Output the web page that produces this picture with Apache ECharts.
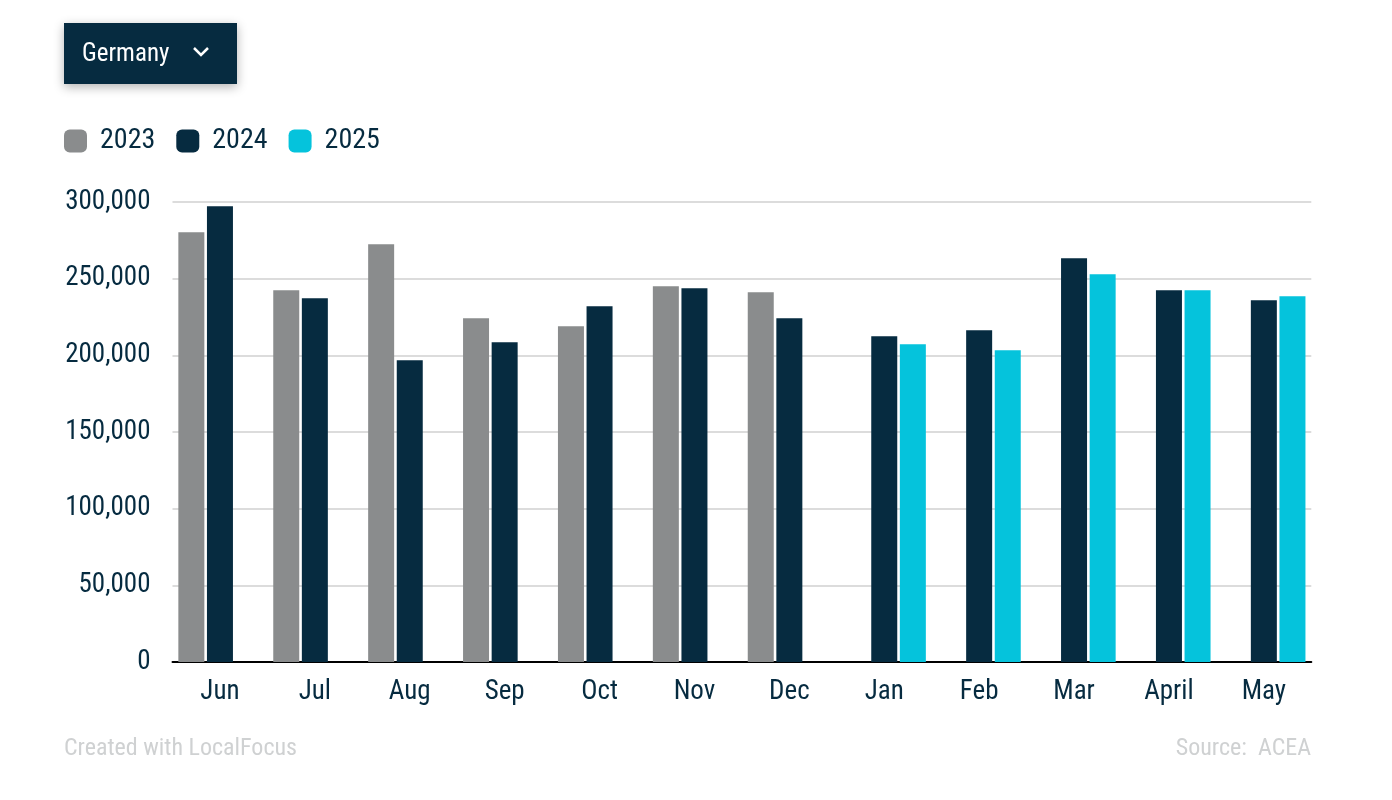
<!DOCTYPE html>
<html>
<head>
<meta charset="utf-8">
<script src="https://cdn.jsdelivr.net/npm/echarts@6/dist/echarts.min.js"></script>
<style>
html,body{margin:0;padding:0;background:#fff;}
#chart{width:1392px;height:800px;}
</style>
</head>
<body>
<div id="chart"></div>
<script>
const categories = ['Jun','Jul','Aug','Sep','Oct','Nov','Dec','Jan','Feb','Mar','April','May'];
const values2023 = [280300, 242500, 272500, 224200, 219000, 245000, 241200, null, null, null, null, null];
const values2024 = [297300, 237200, 196800, 208500, 232000, 243700, 224200, 212500, 216400, 263300, 242500, 236000];
const values2025 = [null, null, null, null, null, null, null, 207200, 203300, 252900, 242500, 238600];
const yTicks = [0, 50000, 100000, 150000, 200000, 250000, 300000];

const FONT = '"Roboto Condensed", "Liberation Sans Narrow", Roboto, sans-serif';
const NAVY = '#062b40';
const GRAY = '#8a8c8d';
const CYAN = '#05c3dc';

const chart = echarts.init(document.getElementById('chart'), null, {renderer: 'canvas'});
const barCommon = {type: 'bar', barWidth: 26, barGap: '10%'};
chart.setOption({
  animation: false,
  backgroundColor: '#ffffff',
  textStyle: {fontFamily: FONT},
  grid: {left: 172.5, right: 80.7, top: 202, bottom: 138, containLabel: false},
  legend: {
    left: 59, top: 122,
    icon: 'roundRect',
    itemWidth: 23, itemHeight: 23, itemGap: 21,
    textStyle: {fontFamily: FONT, fontSize: 28, color: NAVY, padding: [0, 0, 0, 8]},
    data: ['2023', '2024', '2025']
  },
  xAxis: {
    type: 'category',
    data: categories,
    axisTick: {show: false},
    axisLine: {lineStyle: {color: '#000', width: 2}},
    axisLabel: {fontFamily: FONT, fontSize: 27, color: NAVY, margin: 17}
  },
  yAxis: {
    type: 'value',
    min: yTicks[0], max: yTicks[yTicks.length - 1], interval: yTicks[1] - yTicks[0],
    axisLine: {show: false}, axisTick: {show: false},
    splitLine: {lineStyle: {color: '#dcdcdc', width: 2}},
    axisLabel: {fontFamily: FONT, fontSize: 27, color: NAVY, margin: 22,
      formatter: v => v.toLocaleString('en-US')}
  },
  series: [
    Object.assign({name: '2023', data: values2023, itemStyle: {color: GRAY}}, barCommon),
    Object.assign({name: '2024', data: values2024, itemStyle: {color: NAVY}}, barCommon),
    Object.assign({name: '2025', data: values2025, itemStyle: {color: CYAN}}, barCommon)
  ],
  graphic: [
    {type: 'rect', left: 64, top: 23, shape: {width: 173, height: 61},
      style: {fill: NAVY, shadowBlur: 10, shadowColor: 'rgba(0,0,0,0.3)', shadowOffsetY: 3}},
    {type: 'text', left: 82, top: 42,
      style: {text: 'Germany', fill: '#fff', font: '25px ' + FONT}},
    {type: 'polyline', shape: {points: [[194, 48], [201, 55], [208, 48]]},
      style: {stroke: '#fff', lineWidth: 2.5, fill: null}},
    {type: 'text', left: 64, top: 737,
      style: {text: 'Created with LocalFocus', fill: '#cfd1d2', font: '24px ' + FONT}},
    {type: 'text', right: 81, top: 737,
      style: {text: 'Source:  ACEA', fill: '#cfd1d2', font: '24px ' + FONT}}
  ]
});
</script>
</body>
</html>
